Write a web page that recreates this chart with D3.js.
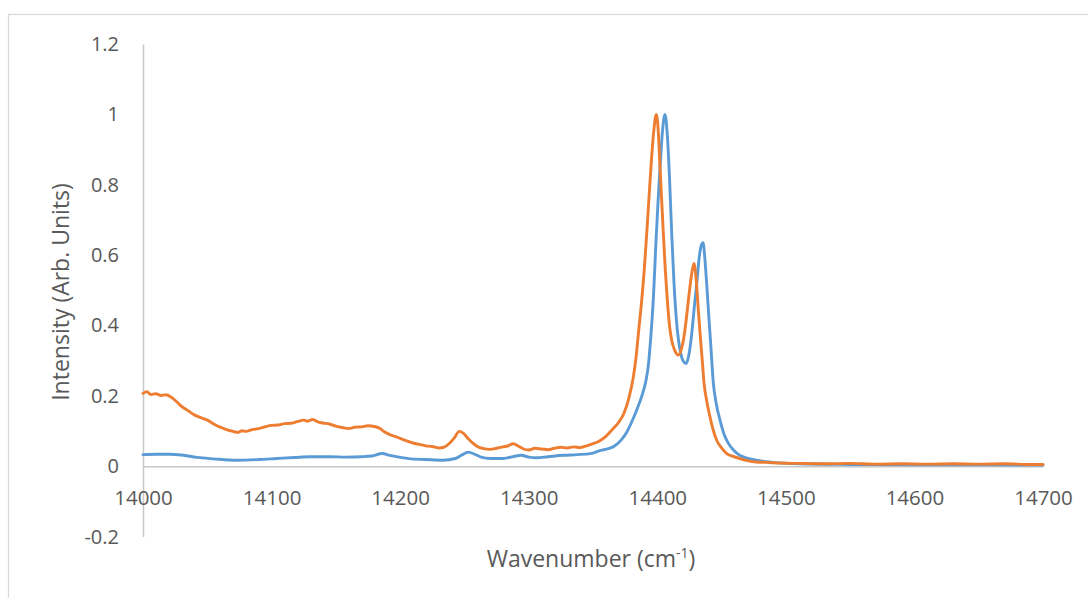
<!DOCTYPE html>
<html>
<head>
<meta charset="utf-8">
<script src="https://cdn.jsdelivr.net/npm/d3@7"></script>
<style>
  html, body { margin: 0; padding: 0; background: #fff; }
  svg { display: block; }
  text { font-family: "Open Sans", "Noto Sans", sans-serif; fill: #595959; }
</style>
</head>
<body>
<svg id="chart" width="1088" height="598"></svg>
<script>
// ---- Data ----
const xTicks = [14000, 14100, 14200, 14300, 14400, 14500, 14600, 14700];
const yTicks = [-0.2, 0, 0.2, 0.4, 0.6, 0.8, 1, 1.2];
const xTitle = "Wavenumber (cm";
const xTitleSup = "-1";
const xTitleEnd = ")";
const yTitle = "Intensity (Arb. Units)";

const series1Wavenumber = [14000,14010,14020,14030,14042,14055,14073,14090,14104,14118,14130,14145,14158,14170,14178,14186,14192,14200,14208,14220,14233,14243,14248,14253,14258,14263,14270,14280,14290,14294,14300,14306,14315,14327,14338,14348,14356,14362,14367,14372,14376,14380,14384,14388,14391,14393,14395,14397,14399,14401,14402.5,14404,14406,14408,14409.5,14411.2,14413,14415,14417.7,14420,14422.3,14424.5,14426.8,14429,14430.7,14432.5,14434,14435.6,14437,14438.4,14440,14441.5,14443.6,14446,14448.8,14452,14455.3,14460,14464,14470,14477,14490,14510,14550,14600,14650,14700];
const series1Intensity = [0.033,0.034,0.034,0.032,0.025,0.021,0.017,0.019,0.022,0.025,0.027,0.027,0.026,0.027,0.029,0.036,0.031,0.025,0.021,0.019,0.017,0.022,0.032,0.040,0.034,0.026,0.022,0.022,0.029,0.031,0.026,0.024,0.027,0.031,0.033,0.036,0.045,0.050,0.058,0.075,0.095,0.125,0.160,0.200,0.240,0.285,0.370,0.480,0.640,0.780,0.870,0.950,1.000,0.930,0.820,0.662,0.520,0.410,0.330,0.300,0.292,0.315,0.377,0.460,0.519,0.590,0.625,0.635,0.590,0.519,0.430,0.350,0.236,0.175,0.131,0.090,0.065,0.043,0.031,0.023,0.017,0.011,0.007,0.005,0.004,0.004,0.003];

const series2Wavenumber = [14000,14003,14006,14010,14014,14018,14022,14026,14030,14035,14040,14045,14050,14055,14060,14065,14070,14074,14077,14080,14085,14090,14095,14100,14105,14110,14115,14120,14125,14128,14132,14136,14140,14145,14150,14155,14160,14165,14170,14175,14180,14184,14188,14192,14196,14200,14205,14210,14215,14220,14225,14230,14234,14238,14242,14246,14249,14253,14257,14260,14265,14270,14275,14280,14284,14288,14292,14296,14300,14305,14310,14315,14320,14325,14330,14335,14340,14345,14350,14355,14360,14365,14370,14374,14378,14381.4,14383.5,14385.3,14387.9,14390,14391.8,14393.5,14395.1,14397.2,14399.2,14400.8,14402.1,14403.5,14404.7,14406.2,14407.8,14409.5,14411.2,14413.5,14416.4,14418.5,14420.3,14422.3,14424.2,14426.8,14428.6,14430.7,14432,14433.3,14435,14436.4,14438.5,14441,14443.5,14446.2,14450,14454,14459,14464,14470,14477,14485,14495,14510,14530,14550,14570,14590,14610,14630,14650,14670,14690,14700];
const series2Intensity = [0.207,0.212,0.204,0.206,0.201,0.203,0.196,0.184,0.170,0.158,0.146,0.138,0.131,0.120,0.111,0.104,0.099,0.096,0.101,0.099,0.104,0.107,0.112,0.116,0.117,0.121,0.122,0.127,0.131,0.128,0.133,0.126,0.123,0.120,0.114,0.110,0.107,0.111,0.112,0.115,0.113,0.108,0.097,0.090,0.085,0.079,0.072,0.066,0.062,0.058,0.056,0.052,0.054,0.064,0.080,0.099,0.094,0.078,0.064,0.056,0.050,0.048,0.051,0.055,0.058,0.064,0.057,0.049,0.046,0.051,0.049,0.047,0.051,0.054,0.052,0.055,0.053,0.058,0.064,0.072,0.085,0.104,0.125,0.150,0.195,0.254,0.310,0.377,0.472,0.565,0.662,0.760,0.851,0.950,1.000,0.950,0.851,0.750,0.662,0.560,0.472,0.400,0.358,0.330,0.316,0.330,0.358,0.410,0.472,0.548,0.576,0.510,0.440,0.377,0.300,0.235,0.185,0.140,0.103,0.074,0.052,0.036,0.028,0.022,0.016,0.012,0.011,0.009,0.008,0.007,0.008,0.006,0.007,0.006,0.007,0.006,0.007,0.005,0.005];

const seriesColors = ["#5B9BD5", "#ED7D31"];

// ---- Layout ----
const svg = d3.select("#chart");
const plot = { left: 143, right: 1043, top: 44, bottom: 536.6 };

svg.append("rect")
  .attr("x", 8.5).attr("y", 14.5)
  .attr("width", 1200).attr("height", 700)
  .attr("fill", "none").attr("stroke", "#d9d9d9").attr("stroke-width", 1.2);

const x = d3.scaleLinear().domain([14000, 14700]).range([plot.left, plot.right]);
const y = d3.scaleLinear().domain([-0.2, 1.2]).range([plot.bottom, plot.top]);

const fmt = d => String(Math.round(d * 10) / 10);

// Y axis
const yAxis = svg.append("g")
  .attr("transform", `translate(${x(14000)},0)`)
  .call(d3.axisLeft(y).tickValues(yTicks).tickFormat(fmt).tickSize(0).tickPadding(24));
yAxis.select(".domain").attr("stroke", "#c8c8c8").attr("stroke-width", 1.5);
yAxis.selectAll("text").style("font-size", "20px").style("font-family", "'Open Sans', sans-serif").attr("fill", "#595959");

// X axis at y = 0
const xAxis = svg.append("g")
  .attr("transform", `translate(0,${y(0)})`)
  .call(d3.axisBottom(x).tickValues(xTicks).tickFormat(d3.format("d")).tickSize(0).tickPadding(24));
xAxis.select(".domain").attr("stroke", "#c8c8c8").attr("stroke-width", 1.5);
xAxis.selectAll("text").style("font-size", "20.5px").style("font-family", "'Open Sans', sans-serif").attr("fill", "#595959");

// Lines
const line = d3.line()
  .x(d => x(d[0]))
  .y(d => y(d[1]))
  .curve(d3.curveMonotoneX);

const s1 = series1Wavenumber.map((w, i) => [w, series1Intensity[i]]);
const s2 = series2Wavenumber.map((w, i) => [w, series2Intensity[i]]);

[s1, s2].forEach((s, i) => {
  svg.append("path")
    .datum(s)
    .attr("d", line)
    .attr("fill", "none")
    .attr("stroke", seriesColors[i])
    .attr("stroke-width", 2.9)
    .attr("stroke-linejoin", "round")
    .attr("stroke-linecap", "round");
});

// Axis titles
const xt = svg.append("text")
  .attr("x", 591).attr("y", 567)
  .attr("text-anchor", "middle")
  .style("font-size", "23px");
xt.append("tspan").text(xTitle);
xt.append("tspan").attr("dy", -9).style("font-size", "14px").text(xTitleSup);
xt.append("tspan").attr("dy", 9).text(xTitleEnd);

svg.append("text")
  .attr("transform", `translate(69,292) rotate(-90)`)
  .attr("text-anchor", "middle")
  .style("font-size", "23px")
  .text(yTitle);
</script>
</body>
</html>
